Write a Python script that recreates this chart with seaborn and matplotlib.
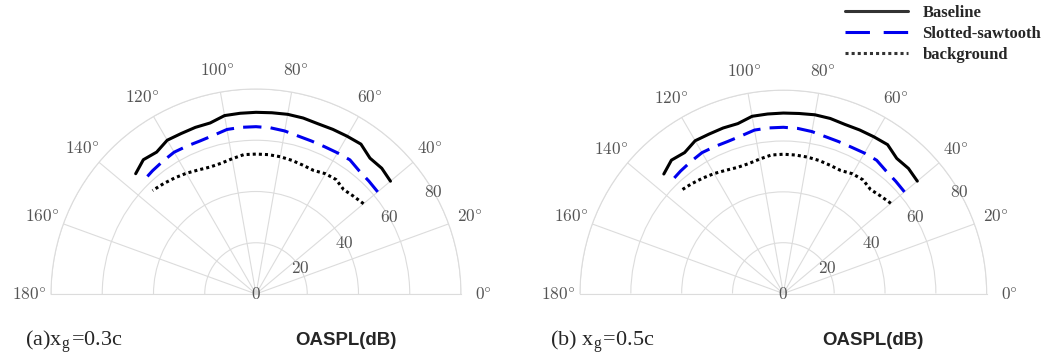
import numpy as np
import pandas as pd
import matplotlib
matplotlib.use("Agg")
import matplotlib.pyplot as plt
from matplotlib.lines import Line2D
import seaborn as sns

# directivity angles (deg) and OASPL (dB)
theta_deg = [40, 45, 50, 55, 60, 65, 70, 75, 80, 85,
             90, 95, 100, 105, 110, 115, 120, 125, 130, 135]

baseline_a = [68.5, 69.4, 69.2, 71.4, 71.1, 70.9, 70.7, 71.1, 71.2, 71.0,
              70.9, 70.8, 70.7, 69.1, 69.2, 69.1, 69.3, 67.6, 68.4, 66.4]
slotted_a = [62.0, 62.3, 62.7, 63.9, 63.6, 63.4, 63.5, 63.8, 64.6, 65.1,
             65.3, 65.3, 65.2, 64.1, 63.6, 63.7, 63.9, 63.3, 62.8, 62.3]
background_a = [54.8, 53.9, 53.2, 54.5, 54.2, 53.2, 53.5, 54.0, 54.4, 54.6,
                54.6, 54.6, 53.6, 52.8, 52.7, 53.4, 54.4, 55.3, 56.2, 57.1]

baseline_b = [68.8, 69.6, 69.4, 71.5, 71.2, 71.0, 70.8, 71.3, 71.4, 71.1,
              71.0, 70.9, 70.8, 69.2, 69.3, 69.2, 69.4, 67.7, 68.5, 66.5]
slotted_b = [62.2, 62.5, 62.9, 64.0, 63.8, 63.5, 63.6, 63.9, 64.7, 65.2,
             65.4, 65.4, 65.3, 64.2, 63.7, 63.8, 64.0, 63.4, 62.9, 62.4]
background_b = [55.2, 54.2, 53.4, 54.6, 54.4, 53.4, 53.7, 54.2, 54.5, 54.7,
                54.8, 54.7, 53.7, 52.9, 52.8, 53.5, 54.5, 55.4, 56.3, 57.2]

angle_ticks = [0, 20, 40, 60, 80, 100, 120, 140, 160, 180]
r_ticks = [0, 20, 40, 60, 80]
series_names = ["Baseline", "Slotted-sawtooth", "background"]
panel_titles = ["(a)x$_\\mathregular{g}$=0.3c", "(b) x$_\\mathregular{g}$=0.5c"]

sns.set_theme(style="white")
plt.rcParams["mathtext.fontset"] = "cm"

colors = ["black", "#0000ee", "black"]
styles = ["-", (0, (6, 3)), (0, (1, 1))]

fig = plt.figure(figsize=(10.47, 3.58), dpi=100)

# square boxes, the half disc sits in the middle of each
positions = [[51 / 1047, (358 - 396.5) / 358, 410 / 1047, 410 / 358],
             [580 / 1047, (358 - 395.2) / 358, 406.7 / 1047, 406.7 / 358]]
panel_data = [[baseline_a, slotted_a, background_a],
              [baseline_b, slotted_b, background_b]]
title_x = [25, 550]
oaspl_x = [295, 822]

for i in range(2):
    ax = fig.add_axes(positions[i], projection="polar")
    df = pd.DataFrame({
        "theta": np.radians(theta_deg * 3),
        "OASPL": sum(panel_data[i], []),
        "case": np.repeat(series_names, len(theta_deg)),
    })
    for name, c, ls in zip(series_names, colors, styles):
        sns.lineplot(data=df[df["case"] == name], x="theta", y="OASPL", ax=ax,
                     color=c, linestyle=ls, lw=2.2, legend=False)
    ax.set_xlabel("")
    ax.set_ylabel("")

    ax.set_thetamin(0)
    ax.set_thetamax(180)
    ax.set_ylim(0, 80)
    ax.set_yticks(r_ticks)
    ax.set_yticklabels([])
    ax.set_xticks(np.radians(angle_ticks))
    ax.set_xticklabels([f"${a}\\degree$" for a in angle_ticks],
                       fontsize=12.5, color="#555555")
    ax.tick_params(axis="x", pad=9, length=0)
    ax.tick_params(axis="y", length=0)
    ax.grid(True, color="#dcdcdc", lw=0.8)
    for sp in ax.spines.values():
        sp.set_color("#dcdcdc")
        sp.set_linewidth(0.8)
    for r in r_ticks:
        ax.text(np.radians(30), r, f"${r}$", fontsize=12.5, color="#555555",
                ha="center", va="center")

    fig.text(title_x[i] / 1047, 12 / 358, panel_titles[i],
             family="Liberation Serif", fontsize=16, va="baseline")
    fig.text(oaspl_x[i] / 1047, 13 / 358, "OASPL(dB)", family="Liberation Sans",
             fontweight="bold", fontsize=13.4, va="baseline")

handles = [Line2D([], [], color="#333333", lw=2.2),
           Line2D([], [], color="#0000ee", lw=2.2, linestyle=(0, (8, 4.5))),
           Line2D([], [], color="#333333", lw=2.2, linestyle=(0, (1, 1)))]
fig.legend(handles, series_names, loc="upper left",
           bbox_to_anchor=(845 / 1047, 1 - 5 / 358), frameon=False,
           prop={"family": "Liberation Serif", "weight": "bold", "size": 12},
           handlelength=3.8, handletextpad=0.85, labelspacing=0.3,
           borderpad=0, borderaxespad=0)

fig.savefig("out.png", dpi=100)
